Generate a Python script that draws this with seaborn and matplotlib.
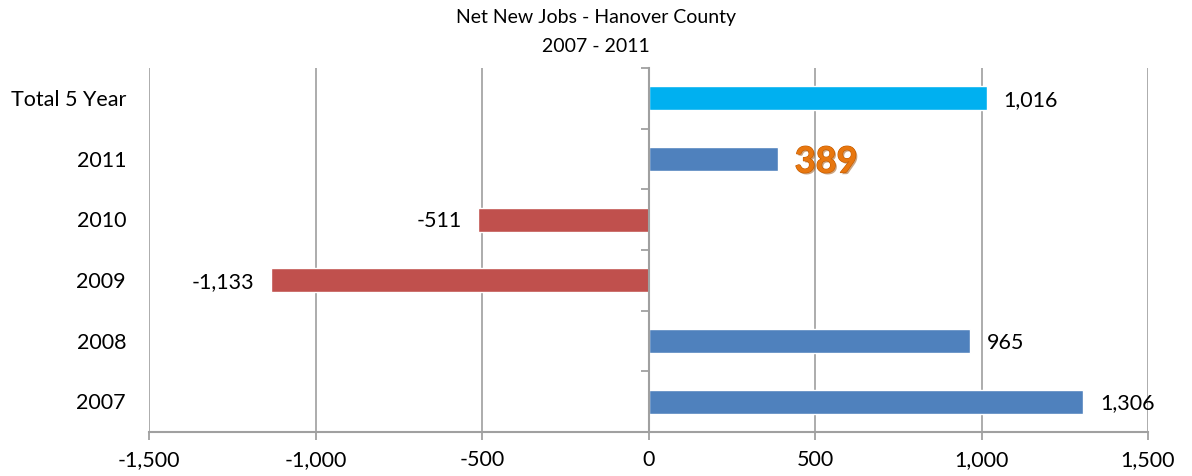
import matplotlib
matplotlib.use("Agg")
import matplotlib.pyplot as plt
import matplotlib.patheffects as pe
import seaborn as sns
import pandas as pd
import numpy as np

categories = ["Total 5 Year", "2011", "2010", "2009", "2008", "2007"]
values = [1016, 389, -511, -1133, 965, 1306]
colors = ["#00B0F0", "#4F81BD", "#C0504D", "#C0504D", "#4F81BD", "#4F81BD"]
value_labels = ["1,016", "389", "-511", "-1,133", "965", "1,306"]
x_ticks = [-1500, -1000, -500, 0, 500, 1000, 1500]
x_tick_labels = ["-1,500", "-1,000", "-500", "0", "500", "1,000", "1,500"]
title_lines = ["Net New Jobs - Hanover County", "2007 - 2011"]

sns.set_theme(style="white")
plt.rcParams["font.family"] = ["Lato", "DejaVu Sans"]

df = pd.DataFrame({"category": categories, "value": values})

fig = plt.figure(figsize=(11.92, 4.76), dpi=100)
ax = fig.add_axes([149 / 1192, 1 - 432 / 476, (1148 - 149) / 1192, (432 - 68) / 476])

sns.barplot(data=df, x="value", y="category", hue="category", palette=colors,
            order=categories, hue_order=categories, orient="h", width=0.4,
            legend=False, ax=ax, saturation=1)

ax.set_xlim(-1500, 1500)
ax.set_ylim(len(categories) - 0.5, -0.5)
ax.set_xticks(x_ticks)
ax.set_xticklabels(x_tick_labels, fontsize=15.5, color="black")
ax.set_xlabel("")
ax.set_ylabel("")
ax.grid(axis="x", color="#A6A6A6", linewidth=1.3)
ax.set_axisbelow(True)

gray = "#A0A0A0"
for s in ["top", "right"]:
    ax.spines[s].set_visible(False)
ax.spines["bottom"].set_color(gray)
ax.spines["bottom"].set_linewidth(1.5)
ax.spines["left"].set_position(("data", 0))
ax.spines["left"].set_color(gray)
ax.spines["left"].set_linewidth(1.5)
ax.spines["left"].set_zorder(5)

ax.tick_params(axis="x", bottom=True, direction="out", length=6, width=1.3, color=gray, pad=7)
ax.set_yticks(np.arange(-0.5, len(categories), 1.0))
ax.set_yticklabels([])
ax.tick_params(axis="y", left=True, direction="out", length=6, width=1.3, color=gray)

ytrans = ax.get_yaxis_transform()
for i, c in enumerate(categories):
    ax.text(-0.023, i + 0.03, c, transform=ytrans, ha="right", va="center", fontsize=15.5, color="black")

for i, (v, lab) in enumerate(zip(values, value_labels)):
    if lab == "389":
        ax.text(v + 50, i + 0.05, lab, ha="left", va="center", fontsize=26, fontweight="bold",
                color="#E8770F",
                path_effects=[pe.withSimplePatchShadow(offset=(1.2, -1.2), shadow_rgbFace="#9A4A00", alpha=0.5),
                              pe.Stroke(linewidth=0.8, foreground="#C25A00"), pe.Normal()])
    elif v >= 0:
        ax.text(v + 50, i + 0.03, lab, ha="left", va="center", fontsize=15.5, color="black")
    else:
        ax.text(v - 50, i + 0.03, lab, ha="right", va="center", fontsize=15.5, color="black")

fig.text(0.5, 1 - 18 / 476, title_lines[0], ha="center", va="center", fontsize=14, color="black")
fig.text(0.5, 1 - 47 / 476, title_lines[1], ha="center", va="center", fontsize=14, color="black")

fig.savefig("out.png", dpi=100, facecolor="white")
